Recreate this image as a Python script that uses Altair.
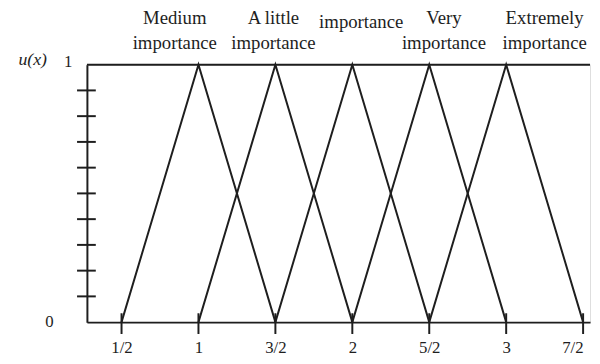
import altair as alt
import pandas as pd

# Triangular membership functions
names = ["Medium", "A little", "importance", "Very", "Extremely"]
left_pts = [0.5, 1.0, 1.5, 2.0, 2.5]
peak_pts = [1.0, 1.5, 2.0, 2.5, 3.0]
right_pts = [1.5, 2.0, 2.5, 3.0, 3.5]

# Top annotations
label_texts = ["Medium\nimportance", "A little\nimportance", "importance",
               "Very\nimportance", "Extremely\nimportance"]
label_x = [0.846, 1.487, 2.058, 2.596, 3.25]
label_lines = [2, 2, 1, 2, 2]

x_tick_values = [0.5, 1.0, 1.5, 2.0, 2.5, 3.0, 3.5]
x_tick_labels = ["1/2", "1", "3/2", "2", "5/2", "3", "7/2"]
y_tick_values = [0.1, 0.2, 0.3, 0.4, 0.5, 0.6, 0.7, 0.8, 0.9]

W, H = 510, 261
X_DOMAIN = [0.275, 3.545]
INK = "#1e1e1e"
FONT = "Liberation Serif"

rows = []
for n, l, p, r in zip(names, left_pts, peak_pts, right_pts):
    rows += [{"name": n, "x": l, "u": 0.0, "o": 0},
             {"name": n, "x": p, "u": 1.0, "o": 1},
             {"name": n, "x": r, "u": 0.0, "o": 2}]
tri = pd.DataFrame(rows)

xs = alt.Scale(domain=X_DOMAIN, nice=False, zero=False)
ys = alt.Scale(domain=[0, 1], nice=False, zero=False)

expr = "''"
for v, t in reversed(list(zip(x_tick_values, x_tick_labels))):
    expr = f"datum.value == {v} ? '{t}' : ({expr})"

lines = alt.Chart(tri).mark_line(color=INK, strokeWidth=2).encode(
    x=alt.X("x:Q", scale=xs,
            axis=alt.Axis(values=x_tick_values, labelExpr=expr, title=None,
                          ticks=False, grid=False, labelPadding=18,
                          labelFlush=10,
                          labelFont=FONT, labelFontSize=17, labelColor=INK,
                          domainColor=INK, domainWidth=2)),
    y=alt.Y("u:Q", scale=ys,
            axis=alt.Axis(labels=False, ticks=False, grid=False, title=None,
                          domainColor=INK, domainWidth=2)),
    detail="name:N",
    order="o:Q",
)

top_rule = alt.Chart(pd.DataFrame({"a": [0]})).mark_rule(
    color=INK, strokeWidth=2).encode(
    x=alt.value(0), x2=alt.value(W), y=alt.value(0))

xt = alt.Chart(pd.DataFrame({"x": x_tick_values})).mark_rule(
    color=INK, strokeWidth=2).encode(
    x=alt.X("x:Q", scale=xs), y=alt.value(H - 9), y2=alt.value(H + 12))

yt = alt.Chart(pd.DataFrame({"y": y_tick_values})).mark_rule(
    color=INK, strokeWidth=2).encode(
    y=alt.Y("y:Q", scale=ys), x=alt.value(-10), x2=alt.value(9))

lab_df = pd.DataFrame({"t": label_texts, "x": label_x, "n": label_lines})
two = alt.Chart(lab_df[lab_df.n == 2]).mark_text(
    font=FONT, fontSize=19, color=INK, lineBreak="\n", lineHeight=25,
    baseline="middle", align="center").encode(
    x=alt.X("x:Q", scale=xs), y=alt.value(-47), text="t:N")
one = alt.Chart(lab_df[lab_df.n == 1]).mark_text(
    font=FONT, fontSize=19, color=INK,
    baseline="middle", align="center").encode(
    x=alt.X("x:Q", scale=xs), y=alt.value(-43), text="t:N")

side_df = pd.DataFrame({"t": ["u(x)", "1", "0"],
                        "px": [-55, -19, -38], "py": [-5, -3, H]})
ux = alt.Chart(side_df.iloc[[0]]).mark_text(
    font=FONT, fontSize=18, fontStyle="italic", color=INK,
    baseline="middle", align="center").encode(
    x=alt.value(-55), y=alt.value(-5), text="t:N")
one_zero = alt.Chart(side_df.iloc[1:]).mark_text(
    font=FONT, fontSize=17, color=INK, baseline="middle", align="center"
).encode(x=alt.X("px:Q", scale=None), y=alt.Y("py:Q", scale=None), text="t:N")

chart = alt.layer(lines, top_rule, xt, yt, two, one, ux, one_zero).properties(
    width=W, height=H,
    autosize=alt.AutoSizeParams(type="none"),
    padding={"left": 80, "top": 55, "right": 2, "bottom": 40},
).configure_view(stroke=None).configure(background="white")

chart.save("out.html", embed_options={"renderer": "svg", "actions": False})
